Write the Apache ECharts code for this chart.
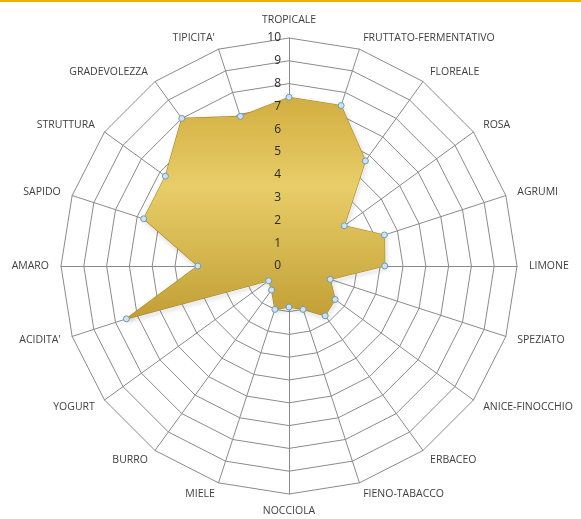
<!DOCTYPE html>
<html>
<head>
<meta charset="utf-8">
<script src="https://cdn.jsdelivr.net/npm/echarts@6/dist/echarts.min.js"></script>
<style>
html,body{margin:0;padding:0;background:#fff;}
#top{position:absolute;left:0;top:0;width:581px;height:2px;background:#e8b400;}
#c{width:581px;height:519px;}
</style>
</head>
<body>
<div id="c"></div>
<div id="top"></div>
<script>
var categories = ["TROPICALE","FRUTTATO-FERMENTATIVO","FLOREALE","ROSA","AGRUMI","LIMONE","SPEZIATO","ANICE-FINOCCHIO","ERBACEO","FIENO-TABACCO","NOCCIOLA","MIELE","BURRO","YOGURT","ACIDITA'","AMARO","SAPIDO","STRUTTURA","GRADEVOLEZZA","TIPICITA'"];
var values = [7.4, 7.4, 5.7, 3.0, 4.4, 4.2, 1.9, 2.5, 2.7, 2.0, 1.8, 2.0, 1.3, 1.1, 7.5, 4.0, 6.7, 6.7, 8.0, 6.9];
var tickLabels = ["0","1","2","3","4","5","6","7","8","9","10"];
var maxValue = 10;

// ECharts radar runs counter-clockwise; reorder so the chart reads clockwise
function clockwise(arr) { return [arr[0]].concat(arr.slice(1).reverse()); }
var cwCats = clockwise(categories);
var cwVals = clockwise(values);

var chart = echarts.init(document.getElementById('c'));
var font = '"Open Sans", "Noto Sans", sans-serif';
chart.setOption({
  animation: false,
  radar: {
    center: [289, 266],
    radius: 228,
    startAngle: 90,
    shape: 'polygon',
    splitNumber: 10,
    indicator: cwCats.map(function (n) { return { name: n, max: maxValue, min: 0 }; }),
    axisName: { color: '#404040', fontSize: 10.5, fontFamily: font },
    nameGap: 12,
    splitLine: { lineStyle: { color: '#8a8a8a', width: 1 } },
    axisLine: { lineStyle: { color: '#8a8a8a', width: 1 } },
    splitArea: { show: false },
    axisTick: { show: false }
  },
  polar: { center: [289, 266], radius: 228 },
  angleAxis: { show: false, startAngle: 90, min: 0, max: 360 },
  radiusAxis: {
    min: 0, max: maxValue, interval: 1,
    axisLine: { show: false },
    axisTick: { show: false },
    splitLine: { show: false },
    axisLabel: {
      color: '#2a2a2a', fontSize: 12, fontFamily: font, margin: 8,
      formatter: function (v) { return tickLabels[v]; }
    },
    z: 10
  },
  series: [{
    type: 'radar',
    z: 3,
    symbol: 'circle',
    symbolSize: 6,
    itemStyle: { color: '#cfe2ee', borderColor: '#6b9bbb', borderWidth: 1 },
    lineStyle: { color: '#a88a2c', width: 1.2, shadowBlur: 4, shadowColor: 'rgba(0,0,0,0.35)', shadowOffsetX: 1, shadowOffsetY: 2 },
    areaStyle: {
      opacity: 1,
      color: {
        type: 'linear', x: 0, y: 0, x2: 0, y2: 1,
        colorStops: [
          { offset: 0, color: '#d2ae40' },
          { offset: 0.4, color: '#e8cd68' },
          { offset: 1, color: '#c29f36' }
        ]
      }
    },
    data: [{ value: cwVals }]
  }]
});
</script>
</body>
</html>
